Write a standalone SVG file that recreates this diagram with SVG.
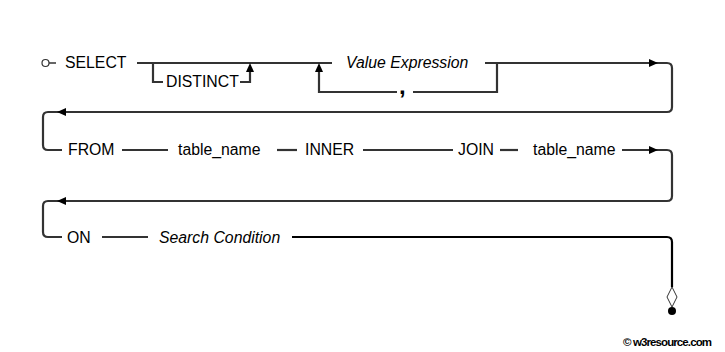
<svg xmlns="http://www.w3.org/2000/svg" width="725" height="352" viewBox="0 0 725 352">
<style>
.t{font-family:"Liberation Sans",Arial,sans-serif;font-size:15.8px;fill:#000}
.i{font-style:italic}
.ln{fill:none;stroke:#333;stroke-width:2.2}
.lk{fill:none;stroke:#000;stroke-width:2.2}
.ah{fill:#000}
</style>
<defs>
<path id="ar" d="M0,0 L-9,-4 L-9,4 Z"/>
</defs>
<rect width="725" height="352" fill="#fff"/>
<g id="connectors">
  <line class="ln" x1="49" y1="63" x2="56" y2="63" style="stroke-width:1.5"/>
  <line class="ln" x1="137" y1="63" x2="332" y2="63"/>
  <path class="ln" d="M153,63 V82 H163"/>
  <path class="ln" d="M240,82 H250 V70"/>
  <use href="#ar" class="ah" transform="translate(250,63) rotate(-90)"/>
  <path class="ln" d="M397,92 H319 V70"/>
  <use href="#ar" class="ah" transform="translate(319,63) rotate(-90)"/>
  <path class="ln" d="M413,92 H497 V63"/>
  <path class="ln" d="M485,63 H667 Q672,63 672,68 V107 Q672,112 667,112 H48 Q43,112 43,117 V145 Q43,150 48,150 H62"/>
  <use href="#ar" class="ah" transform="translate(658,63)"/>
  <use href="#ar" class="ah" transform="translate(57,112) rotate(180)"/>
  <line class="ln" x1="122" y1="150" x2="168" y2="150"/>
  <line class="ln" x1="277" y1="150" x2="297" y2="150"/>
  <line class="ln" x1="363" y1="150" x2="453" y2="150"/>
  <line class="ln" x1="500" y1="150" x2="518" y2="150"/>
  <path class="ln" d="M622,150 H667 Q672,150 672,155 V196 Q672,201 667,201 H48 Q43,201 43,206 V232 Q43,237 48,237 H62"/>
  <use href="#ar" class="ah" transform="translate(658,150)"/>
  <use href="#ar" class="ah" transform="translate(57,201) rotate(180)"/>
  <line class="ln" x1="102" y1="237" x2="148" y2="237"/>
  <path class="lk" d="M292,237 H667 Q672,237 672,242 V287"/>
</g>
<g id="start"><circle cx="45.5" cy="63" r="3.5" fill="#fff" stroke="#333" stroke-width="1.2"/></g>
<g id="select"><text class="t" x="65" y="68">SELECT</text></g>
<g id="distinct"><text class="t" x="166" y="87">DISTINCT</text></g>
<g id="value-expression"><text class="t i" x="346" y="68">Value Expression</text></g>
<g id="comma"><text x="399" y="94" style="font-family:'Liberation Sans',Arial,sans-serif;font-size:24px;font-weight:bold">,</text></g>
<g id="from"><text class="t" x="68" y="155">FROM</text></g>
<g id="table-name-1"><text class="t" x="178" y="155">table_name</text></g>
<g id="inner"><text class="t" x="305" y="155">INNER</text></g>
<g id="join"><text class="t" x="458" y="155">JOIN</text></g>
<g id="table-name-2"><text class="t" x="533" y="155">table_name</text></g>
<g id="on"><text class="t" x="67" y="243">ON</text></g>
<g id="search-condition"><text class="t i" x="159" y="243">Search Condition</text></g>
<g id="end">
  <polygon points="672,287 677,297 672,307 667,297" fill="#fff" stroke="#333" stroke-width="1"/>
  <circle cx="672" cy="311" r="4" fill="#000"/>
</g>
<g id="copyright"><text x="623" y="346" style="font-family:'Liberation Sans',Arial,sans-serif;font-size:11.5px;font-weight:bold" textLength="89">© w3resource.com</text></g>
</svg>
